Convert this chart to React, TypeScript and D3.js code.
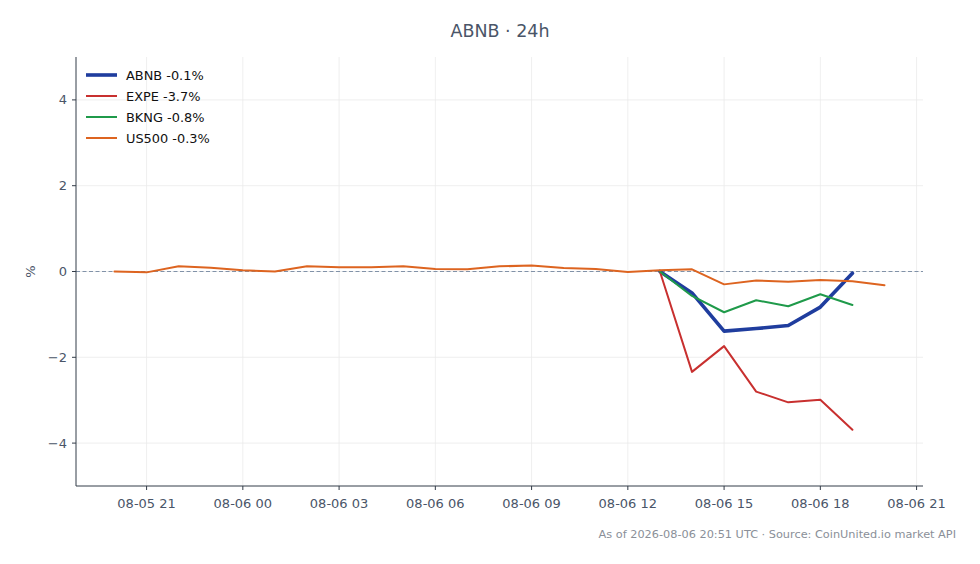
import React from "react";
import { scaleLinear, scaleUtc, line, utcHour, utcFormat } from "d3";

// hourly timestamps (UTC), 08-05 20:00 .. 08-06 20:00
const hours: string[] = [
  "2026-08-05T20:00Z", "2026-08-05T21:00Z", "2026-08-05T22:00Z", "2026-08-05T23:00Z",
  "2026-08-06T00:00Z", "2026-08-06T01:00Z", "2026-08-06T02:00Z", "2026-08-06T03:00Z",
  "2026-08-06T04:00Z", "2026-08-06T05:00Z", "2026-08-06T06:00Z", "2026-08-06T07:00Z",
  "2026-08-06T08:00Z", "2026-08-06T09:00Z", "2026-08-06T10:00Z", "2026-08-06T11:00Z",
  "2026-08-06T12:00Z", "2026-08-06T13:00Z", "2026-08-06T14:00Z", "2026-08-06T15:00Z",
  "2026-08-06T16:00Z", "2026-08-06T17:00Z", "2026-08-06T18:00Z", "2026-08-06T19:00Z",
  "2026-08-06T20:00Z",
];

const us500 = [
  0.0, -0.02, 0.12, 0.09, 0.03, 0.0, 0.12, 0.1, 0.1, 0.12, 0.06, 0.05,
  0.12, 0.14, 0.08, 0.06, -0.01, 0.03, 0.05, -0.3, -0.21, -0.24, -0.2, -0.23, -0.32,
];
// peers start at 08-06 13:00 (index 17)
const abnb = [0.0, -0.5, -1.39, -1.33, -1.26, -0.83, -0.04];
const expe = [0.0, -2.34, -1.74, -2.8, -3.05, -2.99, -3.69];
const bkng = [0.0, -0.57, -0.95, -0.67, -0.81, -0.53, -0.78];

const yTicks = [-4, -2, 0, 2, 4];

const series = [
  { name: "ABNB -0.1%", color: "#1f3d9e", width: 3.6, values: abnb, start: 17 },
  { name: "EXPE -3.7%", color: "#c8302f", width: 2, values: expe, start: 17 },
  { name: "BKNG -0.8%", color: "#1f9a4a", width: 2, values: bkng, start: 17 },
  { name: "US500 -0.3%", color: "#dd6420", width: 2, values: us500, start: 0 },
];

const W = 980;
const H = 564;
const m = { top: 57, right: 57, bottom: 78, left: 76 };
const font = "DejaVu Sans, sans-serif";
const ink = "#4a5568";

export default function App() {
  const times = hours.map((h) => new Date(h));
  const t0 = times[0].getTime();
  const t1 = times[times.length - 1].getTime();
  const pad = (t1 - t0) * 0.05;
  const x = scaleUtc()
    .domain([new Date(t0 - pad), new Date(t1 + pad)])
    .range([m.left, W - m.right]);
  const y = scaleLinear().domain([-5, 5]).range([H - m.bottom, m.top]);
  const xTicks = x.ticks(utcHour.every(3)!);
  const fmt = utcFormat("%m-%d %H");
  const fmtY = (v: number) => (v < 0 ? "\u2212" + Math.abs(v) : String(v));

  const mk = line<[Date, number]>()
    .x((d) => x(d[0]))
    .y((d) => y(d[1]));

  const x0 = m.left;
  const x1 = W - m.right;
  const yb = H - m.bottom;

  return (
    <svg width={W} height={H} style={{ position: "absolute", left: 0, top: 0, background: "#fff" }} fontFamily={font}>
      <rect width={W} height={H} fill="#fff" />
      <text x={500} y={37} textAnchor="middle" fontSize={17.5} fill={ink}>
        ABNB · 24h
      </text>
      {/* grid */}
      {xTicks.map((t, i) => (
        <line key={"gx" + i} x1={x(t)} x2={x(t)} y1={m.top} y2={yb} stroke="#ebebeb" strokeWidth={0.8} />
      ))}
      {yTicks.map((v) => (
        <line key={"gy" + v} x1={x0} x2={x1} y1={y(v)} y2={y(v)} stroke="#ebebeb" strokeWidth={0.8} />
      ))}
      <line x1={x0} x2={x1} y1={y(0)} y2={y(0)} stroke="#8192a8" strokeWidth={1} strokeDasharray="4,2.5" />
      {/* series */}
      {series.map((s) => (
        <path
          key={s.name}
          d={mk(s.values.map((v, i) => [times[s.start + i], v] as [Date, number])) || ""}
          fill="none"
          stroke={s.color}
          strokeWidth={s.width}
          strokeLinejoin="round"
          strokeLinecap="round"
        />
      ))}
      {/* axes */}
      <line x1={x0} x2={x0} y1={m.top} y2={yb} stroke="#333c48" strokeWidth={1} />
      <line x1={x0} x2={x1} y1={yb} y2={yb} stroke="#333c48" strokeWidth={1} />
      {yTicks.map((v) => (
        <g key={"ty" + v}>
          <line x1={x0 - 4} x2={x0} y1={y(v)} y2={y(v)} stroke="#333c48" />
          <text x={x0 - 9} y={y(v)} dy="0.35em" textAnchor="end" fontSize={13} fill={ink}>
            {fmtY(v)}
          </text>
        </g>
      ))}
      {xTicks.map((t, i) => (
        <g key={"tx" + i}>
          <line x1={x(t)} x2={x(t)} y1={yb} y2={yb + 4} stroke="#333c48" />
          <text x={x(t)} y={yb + 22} textAnchor="middle" fontSize={13} fill={ink}>
            {fmt(t)}
          </text>
        </g>
      ))}
      <text transform={`translate(35,${y(0)}) rotate(-90)`} textAnchor="middle" fontSize={13} fill={ink}>
        %
      </text>
      {/* legend */}
      {series.map((s, i) => (
        <g key={"lg" + s.name} transform={`translate(86,${75 + i * 21})`}>
          <line x1={0} x2={31} y1={0} y2={0} stroke={s.color} strokeWidth={s.width} />
          <text x={40} y={0} dy="0.35em" fontSize={12.9} fill="#111">
            {s.name}
          </text>
        </g>
      ))}
      <text x={956} y={538} textAnchor="end" fontSize={11.3} fill="#8a8f98">
        As of 2026-08-06 20:51 UTC · Source: CoinUnited.io market API
      </text>
    </svg>
  );
}
